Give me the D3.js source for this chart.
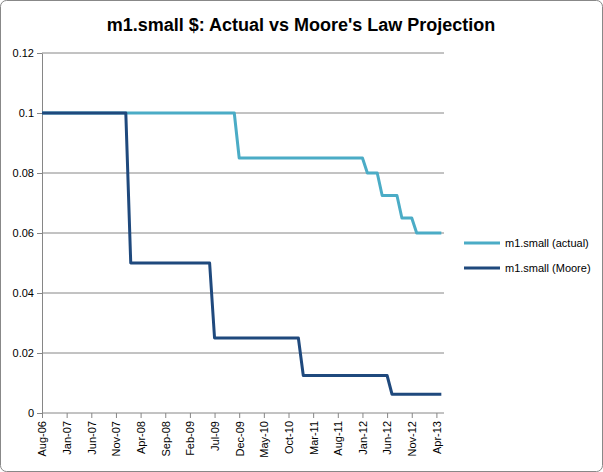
<!DOCTYPE html><html><head><meta charset="utf-8"><script src="https://cdn.jsdelivr.net/npm/d3@7"></script>
<style>body{margin:0;background:#fff}text{font-family:"Liberation Sans",Arial,sans-serif}</style></head><body><svg id="c" width="603" height="472"></svg>
<script>
const title="m1.small $: Actual vs Moore's Law Projection";
const seriesNames=["m1.small (actual)","m1.small (Moore)"];
const months=["Aug-06","Sep-06","Oct-06","Nov-06","Dec-06","Jan-07","Feb-07","Mar-07","Apr-07","May-07","Jun-07","Jul-07","Aug-07","Sep-07","Oct-07","Nov-07","Dec-07","Jan-08","Feb-08","Mar-08","Apr-08","May-08","Jun-08","Jul-08","Aug-08","Sep-08","Oct-08","Nov-08","Dec-08","Jan-09","Feb-09","Mar-09","Apr-09","May-09","Jun-09","Jul-09","Aug-09","Sep-09","Oct-09","Nov-09","Dec-09","Jan-10","Feb-10","Mar-10","Apr-10","May-10","Jun-10","Jul-10","Aug-10","Sep-10","Oct-10","Nov-10","Dec-10","Jan-11","Feb-11","Mar-11","Apr-11","May-11","Jun-11","Jul-11","Aug-11","Sep-11","Oct-11","Nov-11","Dec-11","Jan-12","Feb-12","Mar-12","Apr-12","May-12","Jun-12","Jul-12","Aug-12","Sep-12","Oct-12","Nov-12","Dec-12","Jan-13","Feb-13","Mar-13","Apr-13","May-13"];
const actual=[0.1,0.1,0.1,0.1,0.1,0.1,0.1,0.1,0.1,0.1,0.1,0.1,0.1,0.1,0.1,0.1,0.1,0.1,0.1,0.1,0.1,0.1,0.1,0.1,0.1,0.1,0.1,0.1,0.1,0.1,0.1,0.1,0.1,0.1,0.1,0.1,0.1,0.1,0.1,0.1,
0.085,0.085,0.085,0.085,0.085,0.085,0.085,0.085,0.085,0.085,0.085,0.085,0.085,0.085,0.085,0.085,0.085,0.085,0.085,0.085,0.085,0.085,0.085,0.085,0.085,0.085,
0.08,0.08,0.08,0.0725,0.0725,0.0725,0.0725,0.065,0.065,0.065,0.06,0.06,0.06,0.06,0.06,0.06];
const moore=[0.1,0.1,0.1,0.1,0.1,0.1,0.1,0.1,0.1,0.1,0.1,0.1,0.1,0.1,0.1,0.1,0.1,0.1,
0.05,0.05,0.05,0.05,0.05,0.05,0.05,0.05,0.05,0.05,0.05,0.05,0.05,0.05,0.05,0.05,0.05,
0.025,0.025,0.025,0.025,0.025,0.025,0.025,0.025,0.025,0.025,0.025,0.025,0.025,0.025,0.025,0.025,0.025,0.025,
0.0125,0.0125,0.0125,0.0125,0.0125,0.0125,0.0125,0.0125,0.0125,0.0125,0.0125,0.0125,0.0125,0.0125,0.0125,0.0125,0.0125,0.0125,
0.00625,0.00625,0.00625,0.00625,0.00625,0.00625,0.00625,0.00625,0.00625,0.00625,0.00625];
const yTicks=[0,0.02,0.04,0.06,0.08,0.1,0.12];
const colors=["#4bacc6","#1f497d"];

const svg=d3.select("#c");
svg.append("rect").attr("x",0.5).attr("y",0.5).attr("width",602).attr("height",471).attr("rx",6).attr("fill","#fff").attr("stroke","#888");
svg.append("text").attr("x",301).attr("y",31).attr("text-anchor","middle").attr("font-size",18).attr("font-weight","bold").text(title);
const L=42,R=444,T=53,B=413;
const x=d3.scalePoint().domain(months).range([L,L+81*4.93]);
const y=d3.scaleLinear().domain([0,0.12]).range([B,T]);
const g=svg.append("g");
g.selectAll("line.grid").data(yTicks.slice(1)).join("line").attr("x1",L).attr("x2",R).attr("y1",d=>y(d)).attr("y2",d=>y(d)).attr("stroke","#868686");
const ya=g.append("g").attr("transform",`translate(${L},0)`).call(d3.axisLeft(y).tickValues(yTicks).tickFormat(d=>d3.format("")(+d.toFixed(2))).tickSize(5).tickSizeOuter(0));
ya.selectAll("text").attr("font-size",11).attr("fill","#000").attr("x",-8);
ya.selectAll("line,path").attr("stroke","#868686");
const shown=months.filter((m,i)=>i%5===0);
const xa=g.append("g").attr("transform",`translate(0,${B})`).call(d3.axisBottom(x).tickValues(shown).tickSize(5).tickSizeOuter(0));
xa.select("path").attr("d",`M${L},0H${R}`);
xa.selectAll("line,path").attr("stroke","#868686");
xa.selectAll("text").attr("font-size",11).attr("fill","#000").attr("transform","rotate(-90)").attr("text-anchor","end").attr("x",-8).attr("y",0).attr("dy","0.35em");
const line=d3.line().x((d,i)=>x(months[i])).y(d=>y(d));
[actual,moore].forEach((s,k)=>g.append("path").datum(s).attr("d",line).attr("fill","none").attr("stroke",colors[k]).attr("stroke-width",3).attr("stroke-linejoin","round"));
seriesNames.forEach((n,k)=>{const yy=243+k*25;
svg.append("line").attr("x1",464).attr("x2",500).attr("y1",yy).attr("y2",yy).attr("stroke",colors[k]).attr("stroke-width",3);
svg.append("text").attr("x",505).attr("y",yy+4).attr("font-size",11).text(n);});
</script></body></html>
